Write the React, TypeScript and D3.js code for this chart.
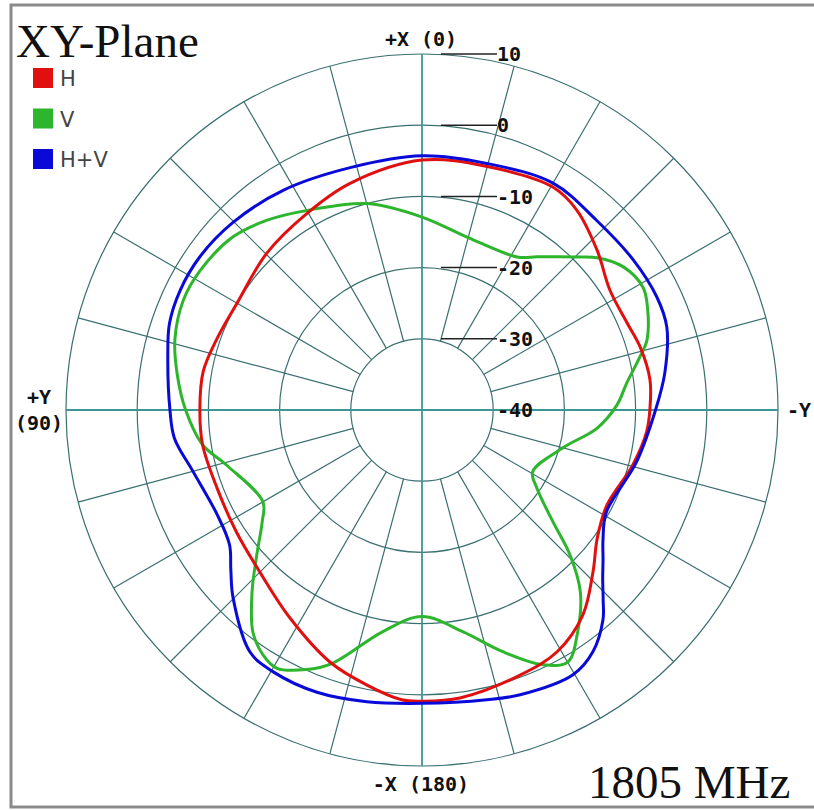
import React from "react";
import * as d3 from "d3";

// ---- Data (angle in degrees, counter-clockwise from +X at top; gain in dB) ----
const hAngles = [0, 17.6, 30.3, 44.6, 60, 71, 80, 90, 99, 110.8, 123.4, 135, 147.6, 160, 168.7, 176, 180, 187.5, 200.3, 209.2, 218.1, 226.5, 233.8, 242.8, 255.4, 264.4, 270, 277.5, 286, 293, 302.5, 312.4, 322.2, 329.6, 345];
const hValues = [-4.9, -6.6, -8.0, -9.0, -10.0, -9.5, -8.8, -8.8, -8.8, -9.2, -8.8, -7.8, -5.4, -2.3, -0.6, 0.8, 0.9, 0.8, -0.3, -1.1, -3.4, -6.9, -9.5, -10.8, -9.4, -8.3, -8.0, -7.7, -8.1, -8.7, -8.7, -6.7, -4.5, -3.7, -4.6];

const vAngles = [0, 14.9, 29.2, 39.2, 47.5, 57.8, 65.3, 74, 81.4, 90, 99, 105.8, 120, 125, 131.3, 137, 142.7, 147, 150.7, 156, 160.4, 170, 180, 190.5, 198.5, 205.4, 210, 215, 221, 225.6, 229.5, 235.8, 240.8, 255, 264, 271.5, 277.5, 283.7, 287.3, 294.5, 299, 305.4, 311, 314.6, 318.6, 323.1, 328.2, 345.4];
const vValues = [-12.9, -10.0, -7.8, -5.6, -4.0, -3.2, -3.1, -3.9, -5.2, -6.8, -8.8, -11.5, -14.2, -12.6, -9.1, -5.0, -0.8, 1.0, 1.6, -0.1, -2.2, -8.4, -11.0, -8.3, -4.2, -0.4, 0.9, -1.9, -6.1, -10.9, -15.8, -20.5, -22.2, -19.5, -15.3, -12.6, -11.0, -8.5, -6.9, -5.2, -4.5, -5.3, -7.4, -9.4, -11.3, -13.1, -14.7, -14.9];

const hvAngles = [0, 16.5, 32.3, 45.3, 55.4, 63.6, 71, 78, 90, 96.5, 105, 117, 125, 129.9, 134.8, 144.6, 150.4, 159.6, 169.3, 180, 192.6, 199, 209.7, 215.2, 220.8, 223.6, 227, 230.4, 234.3, 241, 256.4, 270, 278.7, 288.7, 295.7, 305.4, 317.4, 330, 345.3];
const hvValues = [-4.3, -4.5, -3.5, -2.6, -2.1, -2.1, -2.5, -3.5, -4.6, -5.0, -6.7, -7.7, -7.0, -5.0, -2.6, 1.7, 2.3, 2.3, 1.7, 1.2, 1.7, 2.3, 2.8, 1.6, -1.1, -3.1, -5.3, -7.0, -8.7, -10.4, -9.0, -7.2, -5.5, -3.7, -3.4, -3.6, -3.8, -3.2, -4.2];

const seriesNames = ["H", "V", "H+V"];
const seriesColors = ["#e01010", "#2db52d", "#0a0ad8"];

const ringValues = [-30, -20, -10, 0, 10];
const tickValues = [10, 0, -10, -20, -30, -40];
const tickLabels = ["10", "0", "-10", "-20", "-30", "-40"];
const spokeStep = 15;

const W = 814;
const H = 810;
const CX = 422;
const CY = 410;
const R = 356;

export default function App() {
  const rScale = d3.scaleLinear().domain([-40, 10]).range([0, R]);
  const innerR = rScale(-30);

  const line = d3
    .lineRadial<[number, number]>()
    .angle((d) => (-d[0] * Math.PI) / 180)
    .radius((d) => rScale(d[1]))
    .curve(d3.curveCatmullRomClosed.alpha(0.5));

  const zip = (a: number[], v: number[]) => a.map((x, i) => [x, v[i]] as [number, number]);
  const series = [zip(hAngles, hValues), zip(vAngles, vValues), zip(hvAngles, hvValues)];
  const drawOrder = [1, 0, 2];

  const spokes = d3.range(0, 360, spokeStep).filter((a) => a % 90 !== 0);
  const gridColor = "#3b6f70";
  const axisColor = "#3d9696";
  const labelFont = "'DejaVu Sans Mono', monospace";

  return (
    <svg width={W} height={H} style={{ position: "absolute", left: 0, top: 0, background: "#fff" }}>
      <rect x={0} y={0} width={W} height={H} fill="#fff" />
      {/* frame */}
      <rect x={11} y={5} width={830} height={802} fill="none" stroke="#8a8a8a" strokeWidth={3} />

      <g transform={`translate(${CX},${CY})`}>
        {ringValues.map((v) => (
          <circle key={v} r={rScale(v)} fill="none" stroke={gridColor} strokeWidth={1.2} />
        ))}
        {spokes.map((a) => {
          const [x0, y0] = d3.pointRadial((-a * Math.PI) / 180, innerR);
          const [x1, y1] = d3.pointRadial((-a * Math.PI) / 180, R);
          return <line key={a} x1={x0} y1={y0} x2={x1} y2={y1} stroke={gridColor} strokeWidth={1.2} />;
        })}
        <line x1={-R} y1={0} x2={R} y2={0} stroke={axisColor} strokeWidth={1.8} />
        <line x1={0} y1={-R} x2={0} y2={R} stroke={axisColor} strokeWidth={1.8} />

        {drawOrder.map((i) => (
          <path key={i} d={line(series[i]) || ""} fill="none" stroke={seriesColors[i]} strokeWidth={3} strokeLinejoin="round" />
        ))}

        {tickValues.map((v, i) => (
          <g key={v}>
            {v > -40 && <line x1={19} x2={75} y1={-rScale(v)} y2={-rScale(v)} stroke="#222" strokeWidth={1.5} />}
            <text x={75} y={-rScale(v)} dy="0.36em" fontFamily={labelFont} fontWeight="bold" fontSize={20} fill="#111">
              {tickLabels[i]}
            </text>
          </g>
        ))}
      </g>

      <text x={421} y={46} textAnchor="middle" fontFamily={labelFont} fontWeight="bold" fontSize={20} fill="#111">
        +X (0)
      </text>
      <text x={421} y={791} textAnchor="middle" fontFamily={labelFont} fontWeight="bold" fontSize={20} fill="#111">
        -X (180)
      </text>
      <text x={39} y={404} textAnchor="middle" fontFamily={labelFont} fontWeight="bold" fontSize={20} fill="#111">
        +Y
      </text>
      <text x={39} y={430} textAnchor="middle" fontFamily={labelFont} fontWeight="bold" fontSize={20} fill="#111">
        (90)
      </text>
      <text x={787} y={417} fontFamily={labelFont} fontWeight="bold" fontSize={20} fill="#111">
        -Y
      </text>

      <text x={16} y={57} fontFamily="'Liberation Serif', 'Times New Roman', serif" fontSize={47} fill="#111">
        XY-Plane
      </text>
      <text x={588} y={798} fontFamily="'Liberation Serif', 'Times New Roman', serif" fontSize={47} fill="#111">
        1805 MHz
      </text>

      {seriesNames.map((n, i) => (
        <g key={n} transform={`translate(33, ${68 + i * 40.5})`}>
          <rect width={20} height={20} fill={seriesColors[i]} />
          <text x={27} y={18} fontFamily="'DejaVu Sans', Verdana, sans-serif" fontSize={21} fill="#444">
            {n}
          </text>
        </g>
      ))}
    </svg>
  );
}
